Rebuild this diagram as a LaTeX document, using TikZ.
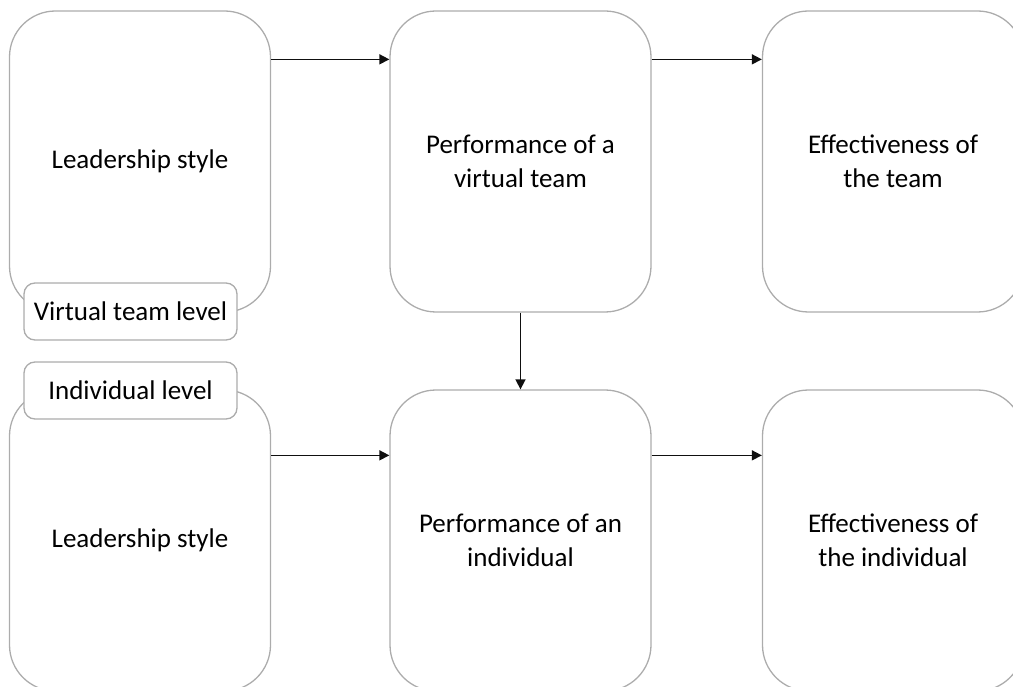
\documentclass[tikz,border=0pt]{standalone}
\usepackage{fontspec}
\setmainfont{Carlito}
\usetikzlibrary{positioning,arrows.meta}
\definecolor{boxgray}{RGB}{172,172,172}
\definecolor{arrowgray}{RGB}{15,15,15}

\begin{document}
\begin{tikzpicture}[x=1pt,y=-1pt]
  \tikzstyle{bigbox}=[
    draw=boxgray, rectangle,
    rounded corners=46pt,
    line width=1.3pt,
    minimum width=261pt,
    minimum height=301pt,
    inner sep=0pt,
    align=center,
    font=\fontsize{27}{34}\selectfont
  ]
  \tikzstyle{levelbox}=[bigbox,
    fill=white,
    rounded corners=11pt,
    minimum width=213pt,
    minimum height=57pt
  ]
  \tikzstyle{link}=[
    draw=arrowgray, line width=1.6pt,
    -{Triangle[length=10pt,width=10pt]}
  ]

  \useasboundingbox (0,0) rectangle (1013,687);
  \clip (0,0) rectangle (1013,687);

  % virtual team level
  \node[bigbox] (team lead) at (140,161.5) {Leadership style};
  \node[bigbox] (team perf) at (520.5,161.5) {Performance of a\\virtual team};
  \node[bigbox] (team eff)  at (893,161.5) {Effectiveness of\\the team};

  % individual level
  \node[bigbox] (ind lead) at (140,540.5) {Leadership style};
  \node[bigbox] (ind perf) at (520.5,540.5) {Performance of an\\individual};
  \node[bigbox] (ind eff)  at (893,540.5) {Effectiveness of\\the individual};

  \node[levelbox] (team level) at (130.5,311.5) {Virtual team level};
  \node[levelbox] (ind level)  at (130.5,390.5) {Individual level};

  \draw[link] ([yshift=-49pt]team lead.north east) -- ([yshift=-49pt]team perf.north west);
  \draw[link] ([yshift=-49pt]team perf.north east) -- ([yshift=-49pt]team eff.north west);
  \draw[link] (team perf.south) -- (ind perf.north);
  \draw[link] ([yshift=-66pt]ind lead.north east) -- ([yshift=-66pt]ind perf.north west);
  \draw[link] ([yshift=-66pt]ind perf.north east) -- ([yshift=-66pt]ind eff.north west);
\end{tikzpicture}
\end{document}
